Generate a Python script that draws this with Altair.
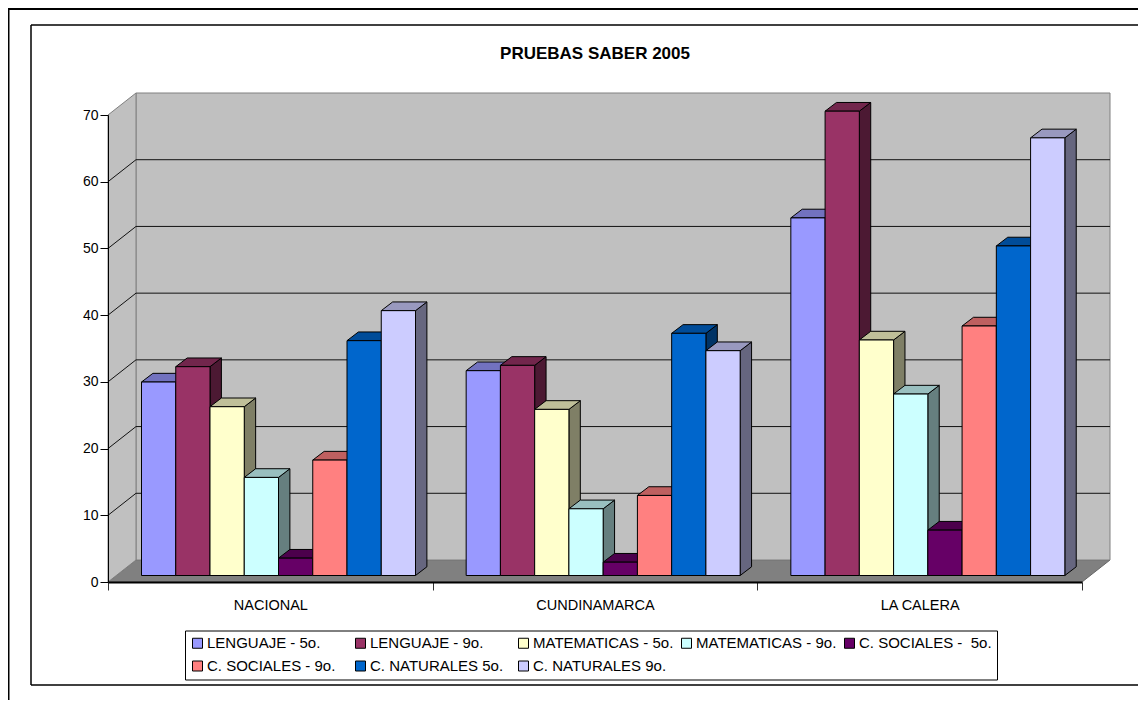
import altair as alt
import pandas as pd

categories = ["NACIONAL", "CUNDINAMARCA", "LA CALERA"]
series = ["LENGUAJE - 5o.", "LENGUAJE - 9o.", "MATEMATICAS - 5o.", "MATEMATICAS - 9o.",
          "C. SOCIALES - \u00a05o.", "C. SOCIALES - 9o.", "C. NATURALES 5o.", "C. NATURALES 9o."]
nacional = [29.0, 31.3, 25.3, 14.7, 2.6, 17.3, 35.2, 39.7]
cundinamarca = [30.7, 31.5, 24.9, 10.0, 2.0, 12.0, 36.3, 33.7]
la_calera = [53.6, 69.6, 35.3, 27.2, 6.8, 37.4, 49.4, 65.6]
colors = ["#9999FF", "#993366", "#FFFFCC", "#CCFFFF", "#660066", "#FF8080", "#0066CC", "#CCCCFF"]
y_ticks = [0, 10, 20, 30, 40, 50, 60, 70]

PLOT_W, PLOT_H = 974, 467
px_x = 3 / PLOT_W
px_y = 70 / PLOT_H
bar_w = 34.25 * px_x
bar_start = 33.5 * px_x
bar_dx = 11.4 * px_x
bar_dy = 8.7 * px_y
base = 6.5 * px_y
wall_dx = 28 * px_x
wall_dy = 22 * px_y


def shade(hex_color, k):
    r, g, b = (int(hex_color[i:i + 2], 16) for i in (1, 3, 5))
    return "#%02x%02x%02x" % (int(r * k), int(g * k), int(b * k))


front, side, top = [], [], []
for c, vals in enumerate([nacional, cundinamarca, la_calera]):
    for s, v in enumerate(vals):
        xl = c + bar_start + s * bar_w
        xr = xl + bar_w
        bid = f"{c}-{s}"
        front.append(dict(x=xl, x2=xr, y=base + v, y2=base, series=series[s]))
        side.append(dict(id=bid, x=xr, y=base + v, y2=base, fill=shade(colors[s], 0.5)))
        side.append(dict(id=bid, x=xr + bar_dx, y=base + v + bar_dy, y2=base + bar_dy, fill=shade(colors[s], 0.5)))
        top.append(dict(id=bid, y=base + v, x=xl, x2=xr, fill=shade(colors[s], 0.75)))
        top.append(dict(id=bid, y=base + v + bar_dy, x=xl + bar_dx, x2=xr + bar_dx, fill=shade(colors[s], 0.75)))

xs = alt.Scale(domain=[0, 3], nice=False, zero=False)
ys = alt.Scale(domain=[0, 70], nice=False, zero=False)
FONT = "Liberation Sans"
label_expr = ("datum.value==0.5?'%s':datum.value==1.5?'%s':datum.value==2.5?'%s':''"
              % tuple(categories))
x_axis = alt.Axis(values=[0, 0.5, 1, 1.5, 2, 2.5, 3], title=None, grid=False, labelExpr=label_expr,
                  tickSize=8, tickColor="#333333", tickOpacity={"condition": {"test": "datum.value % 1 == 0", "value": 1}, "value": 0},
                  domainColor="black", domainWidth=2, labelFont=FONT, labelFontSize=14.5, labelColor="black",
                  labelPadding=8, labelOverlap=False, labelFlush=False, zindex=1)
y_axis = alt.Axis(values=y_ticks, title=None, grid=False, tickSize=8, tickColor="black", domainColor="black",
                  labelFont=FONT, labelFontSize=14, labelColor="black", labelPadding=2, labelOverlap=False, zindex=1)


def X():
    return alt.X("x:Q", scale=xs, axis=x_axis)


def Y():
    return alt.Y("y:Q", scale=ys, axis=y_axis)


def frame(x, x2, y, y2, width):
    return alt.Chart(pd.DataFrame({"a": [0]})).mark_rule(color="black", strokeWidth=width).encode(
        x=alt.value(x), x2=alt.value(x2), y=alt.value(y), y2=alt.value(y2))


# page px -> plot coordinates: subtract 108 horizontally, 115 vertically
frames = [
    frame(-100, 1030, -106, -106, 2),
    frame(-99.5, -99.5, -107, 585, 2),
    frame(-77, 1030, -90, -90, 1.5),
    frame(-77, 1030, 570, 570, 1.5),
    frame(-77, -77, -90, 570, 1.5),
]

floor = alt.Chart(pd.DataFrame([
    dict(y=0, x=0, x2=3), dict(y=wall_dy, x=wall_dx, x2=3 + wall_dx)])).mark_area(
    orient="horizontal", fill="#808080", stroke="#666666", strokeWidth=1).encode(
    x=X(), x2="x2:Q", y=Y())

back_wall = alt.Chart(pd.DataFrame([
    dict(x=wall_dx, y=70 + wall_dy, y2=wall_dy), dict(x=3 + wall_dx, y=70 + wall_dy, y2=wall_dy)])).mark_area(
    orient="vertical", fill="#C0C0C0", stroke="#808080", strokeWidth=1).encode(x=X(), y=Y(), y2="y2:Q")

left_wall = alt.Chart(pd.DataFrame([
    dict(x=0, y=70, y2=0), dict(x=wall_dx, y=70 + wall_dy, y2=wall_dy)])).mark_area(
    orient="vertical", fill="#C0C0C0", stroke="#808080", strokeWidth=1).encode(x=X(), y=Y(), y2="y2:Q")

grid_rows = []
for t in y_ticks[1:-1]:
    grid_rows += [dict(t=t, x=0, y=t), dict(t=t, x=wall_dx, y=t + wall_dy), dict(t=t, x=3 + wall_dx, y=t + wall_dy)]
grid = alt.Chart(pd.DataFrame(grid_rows)).mark_line(color="#111111", strokeWidth=1).encode(
    x=X(), y=Y(), detail="t:N")

sides = alt.Chart(pd.DataFrame(side)).mark_area(orient="vertical", stroke="black", strokeWidth=1).encode(
    x=X(), y=Y(), y2="y2:Q", detail="id:N", fill=alt.Fill("fill:N", scale=None))
tops = alt.Chart(pd.DataFrame(top)).mark_area(orient="horizontal", stroke="black", strokeWidth=1).encode(
    x=X(), x2="x2:Q", y=Y(), detail="id:N", fill=alt.Fill("fill:N", scale=None))
fronts = alt.Chart(pd.DataFrame(front)).mark_rect(stroke="black", strokeWidth=1).encode(
    x=X(), x2="x2:Q", y=Y(), y2="y2:Q",
    fill=alt.Fill("series:N", sort=series, scale=alt.Scale(domain=series, range=colors),
                  legend=alt.Legend(title=None, orient="none", legendX=77, legendY=515.5, columns=5, direction="horizontal",
                                    gridAlign="all", columnPadding=5, rowPadding=7, padding=5,
                                    strokeColor="black", fillColor="white",
                                    symbolType="square", symbolSize=100, symbolStrokeColor="black",
                                    symbolStrokeWidth=1, labelFont=FONT, labelFontSize=15,
                                    labelColor="black", labelLimit=400, labelOffset=2)))

chart = alt.layer(*frames, floor, back_wall, left_wall, grid, sides, tops, fronts).properties(
    width=PLOT_W, height=PLOT_H,
    padding={"left": 100, "top": 107, "right": 56, "bottom": 126},
    autosize=alt.AutoSizeParams(type="none"),
    background="white",
    title=alt.TitleParams("PRUEBAS SABER 2005", font=FONT, fontSize=17, fontWeight="bold",
                          color="black", anchor="middle", offset=-56),
).configure_view(stroke=None)

chart.save("out.html", embed_options={"renderer": "svg", "actions": False})
